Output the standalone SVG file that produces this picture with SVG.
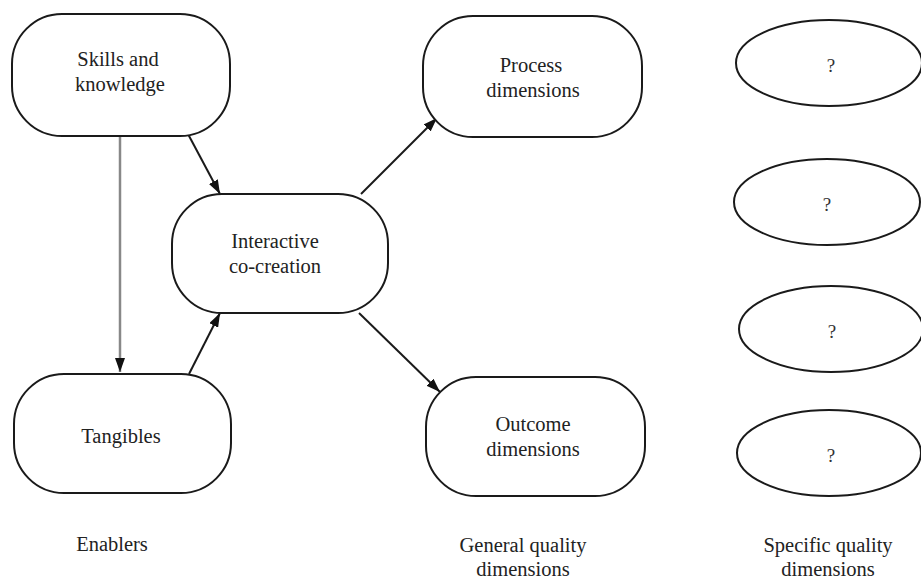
<svg xmlns="http://www.w3.org/2000/svg" width="921" height="581" viewBox="0 0 921 581">
<style>
.box{fill:#fff;stroke:#1a1a1a;stroke-width:2}
.t{font-size:20.5px;fill:#222;text-anchor:middle}
.q{font-size:19px;fill:#333;text-anchor:middle}
.c{stroke:#1a1a1a;stroke-width:2;fill:none;marker-end:url(#ah)}
.g{stroke:#888;stroke-width:2.5;fill:none;marker-end:url(#ah)}
</style>
<defs>
<marker id="ah" viewBox="0 0 14 10" refX="14" refY="5" markerWidth="14" markerHeight="10" markerUnits="userSpaceOnUse" orient="auto">
<path d="M0,0 L14,5 L0,10 z" fill="#111"/>
</marker>
</defs>
<rect width="921" height="581" fill="#fff"/>
<g id="connectors">
<line class="g" x1="120" y1="136" x2="120" y2="372"/>
<line class="c" x1="188" y1="134" x2="220" y2="194"/>
<line class="c" x1="189" y1="374" x2="220" y2="313"/>
<line class="c" x1="361" y1="194" x2="437" y2="118"/>
<line class="c" x1="359" y1="313" x2="440" y2="392"/>
</g>
<g font-family="Liberation Serif, Times New Roman, serif">
<g id="skills">
<rect class="box" x="12" y="14" width="218" height="122" rx="50" ry="50"/>
<text class="t" x="118" y="66">Skills and</text>
<text class="t" x="120" y="91">knowledge</text>
</g>
<g id="interactive">
<rect class="box" x="172" y="194" width="216" height="119" rx="50" ry="50"/>
<text class="t" x="275" y="248">Interactive</text>
<text class="t" x="275" y="273">co-creation</text>
</g>
<g id="tangibles">
<rect class="box" x="14" y="374" width="217" height="119" rx="50" ry="50"/>
<text class="t" x="121" y="443">Tangibles</text>
</g>
<g id="process">
<rect class="box" x="423" y="16" width="219" height="121" rx="50" ry="50"/>
<text class="t" x="531" y="72">Process</text>
<text class="t" x="533" y="97">dimensions</text>
</g>
<g id="outcome">
<rect class="box" x="426" y="377" width="219" height="119" rx="50" ry="50"/>
<text class="t" x="533" y="431">Outcome</text>
<text class="t" x="533" y="456">dimensions</text>
</g>
<g id="q1">
<ellipse class="box" cx="829" cy="63" rx="93" ry="43"/>
<text class="q" x="831" y="72">?</text>
</g>
<g id="q2">
<ellipse class="box" cx="827" cy="202" rx="93" ry="43"/>
<text class="q" x="827" y="211">?</text>
</g>
<g id="q3">
<ellipse class="box" cx="831" cy="329" rx="92" ry="43"/>
<text class="q" x="832" y="338">?</text>
</g>
<g id="q4">
<ellipse class="box" cx="829" cy="453" rx="92" ry="43"/>
<text class="q" x="831" y="462">?</text>
</g>
<g id="labels">
<text class="t" x="112" y="551">Enablers</text>
<text class="t" x="523" y="552">General quality</text>
<text class="t" x="523" y="576">dimensions</text>
<text class="t" x="828" y="552">Specific quality</text>
<text class="t" x="828" y="576">dimensions</text>
</g>
</g>
</svg>
